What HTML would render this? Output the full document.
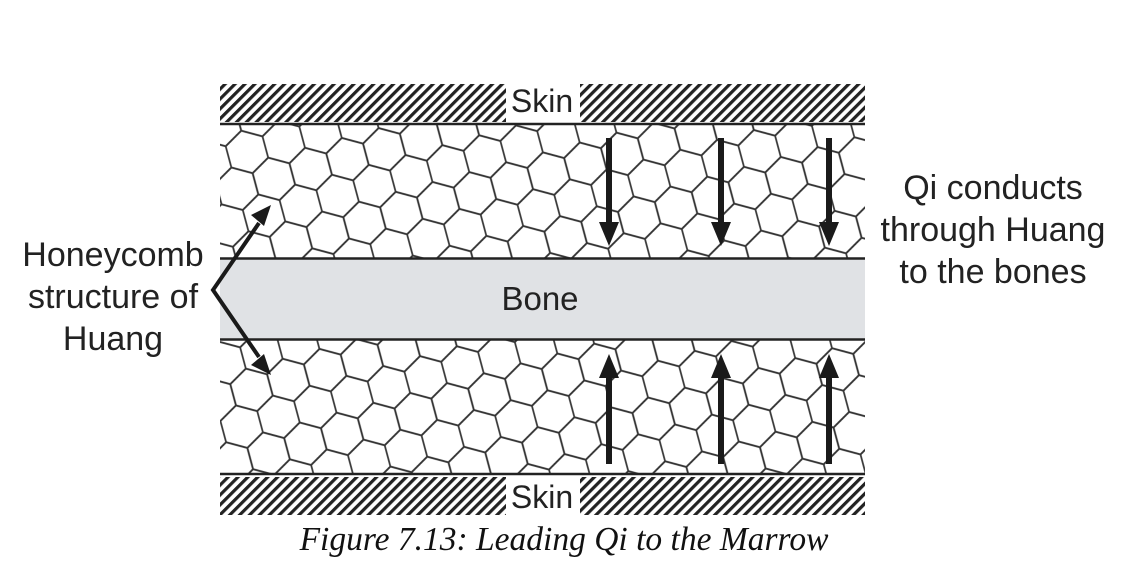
<!DOCTYPE html>
<html><head><style>
html,body{margin:0;padding:0;background:#fff;}
svg{display:block;}
</style></head><body>
<svg width="1137" height="563" xmlns="http://www.w3.org/2000/svg">
<defs>
<pattern id="hatch" width="7" height="7" patternUnits="userSpaceOnUse" patternTransform="rotate(-45)">
<rect x="0" y="0" width="7" height="3.2" fill="#222"/>
</pattern>
<pattern id="hex" width="38.1" height="66" patternUnits="userSpaceOnUse" patternTransform="translate(220,125) rotate(-15)">
<g fill="none" stroke="#333" stroke-width="1.7">
<path d="M0,-22 L19.05,-11 L19.05,11 L0,22 L-19.05,11 L-19.05,-11Z"/>
<path d="M38.1,-22 L57.15,-11 L57.15,11 L38.1,22 L19.05,11 L19.05,-11Z"/>
<path d="M19.05,11 L38.1,22 L38.1,44 L19.05,55 L0,44 L0,22Z"/>
<path d="M0,44 L19.05,55 L19.05,77 L0,88 L-19.05,77 L-19.05,55Z"/>
<path d="M38.1,44 L57.15,55 L57.15,77 L38.1,88 L19.05,77 L19.05,55Z"/>
</g>
</pattern>
</defs>
<rect x="220" y="84" width="286" height="38" fill="url(#hatch)"/>
<rect x="580" y="84" width="285" height="38" fill="url(#hatch)"/>
<rect x="220" y="477" width="286" height="38" fill="url(#hatch)"/>
<rect x="580" y="477" width="285" height="38" fill="url(#hatch)"/>
<g font-family="Liberation Sans, sans-serif" font-size="32" fill="#222">
<text x="542" y="112" text-anchor="middle">Skin</text>
<text x="542" y="508" text-anchor="middle">Skin</text>
</g>
<rect x="220" y="125" width="645" height="133" fill="url(#hex)"/>
<rect x="220" y="340" width="645" height="133" fill="url(#hex)"/>
<rect x="220" y="259" width="645" height="80" fill="#e0e2e5"/>
<g stroke="#222" stroke-width="2.5">
<line x1="220" y1="124" x2="865" y2="124"/>
<line x1="220" y1="258.5" x2="865" y2="258.5"/>
<line x1="220" y1="339.5" x2="865" y2="339.5"/>
<line x1="220" y1="474" x2="865" y2="474"/>
</g>
<text x="540" y="310" text-anchor="middle" font-family="Liberation Sans, sans-serif" font-size="33" fill="#222">Bone</text>
<g fill="#1a1a1a">
<rect x="606" y="138" width="6" height="88"/><path d="M599,222 L619,222 L609,246Z"/>
<rect x="718" y="138" width="6" height="88"/><path d="M711,222 L731,222 L721,246Z"/>
<rect x="826" y="138" width="6" height="88"/><path d="M819,222 L839,222 L829,246Z"/>
<rect x="606" y="374" width="6" height="90"/><path d="M599,378 L619,378 L609,354Z"/>
<rect x="718" y="374" width="6" height="90"/><path d="M711,378 L731,378 L721,354Z"/>
<rect x="826" y="374" width="6" height="90"/><path d="M819,378 L839,378 L829,354Z"/>
</g>
<polyline points="259,223 213,290 259,357" fill="none" stroke="#1a1a1a" stroke-width="4"/>
<path d="M271,205 L251,215 L264,226Z" fill="#1a1a1a"/>
<path d="M271,375 L251,365 L264,354Z" fill="#1a1a1a"/>
<g font-family="Liberation Sans, sans-serif" font-size="34" fill="#222" text-anchor="middle">
<text x="113" y="266">Honeycomb</text>
<text x="113" y="308">structure of</text>
<text x="113" y="350">Huang</text>
<text x="993" y="199">Qi conducts</text>
<text x="993" y="241">through Huang</text>
<text x="993" y="283">to the bones</text>
</g>
<text x="564" y="550" text-anchor="middle" font-family="Liberation Serif, serif" font-style="italic" font-size="33.5" fill="#111">Figure 7.13: Leading Qi to the Marrow</text>
</svg>
</body></html>
